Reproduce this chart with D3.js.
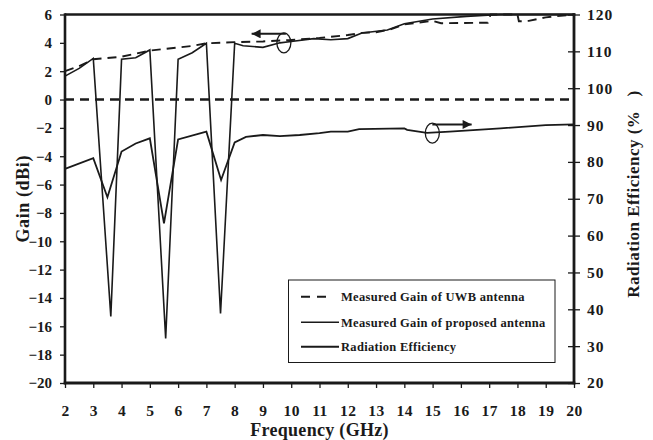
<!DOCTYPE html>
<html><head><meta charset="utf-8">
<script src="https://cdn.jsdelivr.net/npm/d3@7"></script>
<style>
html,body{margin:0;padding:0;background:#fff;}
svg{display:block;}
text{font-family:"Liberation Serif","Times New Roman",serif;font-weight:bold;fill:#1a1a1a;}
</style></head>
<body>
<script>
// ---- Data ----
const freqTicks = [2,3,4,5,6,7,8,9,10,11,12,13,14,15,16,17,18,19,20];
const gainTicks = [6,4,2,0,-2,-4,-6,-8,-10,-12,-14,-16,-18,-20];
const effTicks = [120,110,100,90,80,70,60,50,40,30,20];

const freqUWB = [2,2.5,3,3.6,4,5,5.4,6.5,7,8,9,10,11,12,12.5,13,13.5,14,15,15.3,16,16.95,17.05,18,18.05,18.4,19,20];
const gainUWB = [2.0,2.35,2.84,2.95,3.02,3.45,3.54,3.78,3.97,4.05,4.1,4.2,4.35,4.55,4.7,4.75,4.95,5.3,5.55,5.38,5.4,5.42,6.0,6.0,5.52,5.55,5.8,6.0];

const freqProposed = [2,2.5,3,3.62,4,4.5,5,5.56,6,6.5,7,7.5,8,8.3,9,9.6,10,10.8,11.4,12,12.5,13.4,14,15,16.2,17.4,18,19,20];
const gainProposed = [1.65,2.2,2.9,-15.3,2.84,2.95,3.5,-16.85,2.84,3.3,3.97,-15.1,3.97,3.8,3.68,4.0,4.1,4.3,4.22,4.3,4.7,4.9,5.35,5.68,5.87,6.0,6.0,6.0,6.0];

const freqEff = [2,3,3.5,4,4.5,5,5.5,6,7,7.52,8,8.4,9,9.6,10.3,11,11.4,12,12.4,14,14.1,14.8,15.6,17.4,19,20];
const efficiency = [78.1,81.0,70.4,82.8,85.0,86.4,63.3,86.1,88.2,75.1,85.3,86.8,87.3,87.0,87.3,87.8,88.2,88.2,88.9,89.1,88.7,87.9,88.2,89.1,90.0,90.2];

const legendLabels = ["Measured Gain of UWB antenna","Measured Gain of proposed antenna","Radiation Efficiency"];

// ---- Layout ----
const W = 653, H = 440;
const L = 65, R = 574, T = 14.5, B = 383;

const svg = d3.select("body").append("svg").attr("width",W).attr("height",H);

const x = d3.scaleLinear().domain([2,20]).range([L,R]);
const y = d3.scaleLinear().domain([-20,6]).range([B,T]);
const y2 = d3.scaleLinear().domain([20,120]).range([B,T]);

const ink = "#1a1a1a";
const serif = '"Liberation Serif","Times New Roman",serif';

// zero dashed line
svg.append("line").attr("x1",L).attr("x2",R).attr("y1",y(0)).attr("y2",y(0))
  .attr("stroke",ink).attr("stroke-width",2.6).attr("stroke-dasharray","9,6");

// curves
const lineGain = d3.line().x(d=>x(d[0])).y(d=>y(d[1]));
const lineEff = d3.line().x(d=>x(d[0])).y(d=>y2(d[1]));

svg.append("path").datum(freqEff.map((f,i)=>[f,efficiency[i]]))
  .attr("d",lineEff).attr("fill","none").attr("stroke",ink).attr("stroke-width",1.8).attr("stroke-linejoin","miter");
svg.append("path").datum(freqProposed.map((f,i)=>[f,gainProposed[i]]))
  .attr("d",lineGain).attr("fill","none").attr("stroke",ink).attr("stroke-width",1.6).attr("stroke-linejoin","miter");
svg.append("path").datum(freqUWB.map((f,i)=>[f,gainUWB[i]]))
  .attr("d",lineGain).attr("fill","none").attr("stroke",ink).attr("stroke-width",1.9).attr("stroke-dasharray","9,6");

// axes
const axL = svg.append("g").attr("transform",`translate(${L},0)`)
  .call(d3.axisLeft(y).tickValues(gainTicks).tickSize(5).tickPadding(8).tickFormat(d3.format("d")));
const axB = svg.append("g").attr("transform",`translate(0,${B})`)
  .call(d3.axisBottom(x).tickValues(freqTicks).tickSize(5).tickPadding(17).tickFormat(d3.format("d")));
const axR = svg.append("g").attr("transform",`translate(${R},0)`)
  .call(d3.axisRight(y2).tickValues(effTicks).tickSize(6).tickPadding(7).tickFormat(d3.format("d")));
[axL,axB,axR].forEach(g=>{
  g.attr("font-family",null).attr("font-size",null);
  g.select(".domain").remove();
  g.selectAll(".tick line").attr("stroke",ink).attr("stroke-width",1.3);
  g.selectAll("text").style("font-family",serif).style("font-weight","bold").attr("fill",ink);
});
axR.selectAll(".tick line").attr("x1",-6);
axL.selectAll("text").style("font-size","15px");
axB.selectAll("text").style("font-size","15.5px").attr("letter-spacing",0.5);
axR.selectAll("text").style("font-size","15.5px").attr("letter-spacing",1);

// frame lines
svg.append("line").attr("x1",L).attr("x2",R+1.3).attr("y1",T).attr("y2",T).attr("stroke",ink).attr("stroke-width",2.6);
svg.append("line").attr("x1",L).attr("x2",L).attr("y1",T-1.3).attr("y2",B+1.3).attr("stroke",ink).attr("stroke-width",2.6);
svg.append("line").attr("x1",L-1.3).attr("x2",R+1.3).attr("y1",B).attr("y2",B).attr("stroke",ink).attr("stroke-width",2.8);
svg.append("line").attr("x1",R).attr("x2",R).attr("y1",T-1.3).attr("y2",B+1.3).attr("stroke",ink).attr("stroke-width",2.8);

// axis titles
svg.append("text").attr("transform",`translate(28.5,${(T+B)/2}) rotate(-90)`)
  .attr("text-anchor","middle").attr("font-size",18).attr("letter-spacing",0.6).text("Gain (dBi)");
svg.append("text").attr("x",(L+R)/2+0).attr("y",436).attr("text-anchor","middle")
  .attr("font-size",18).attr("letter-spacing",0.3).text("Frequency (GHz)");
svg.append("text").attr("transform",`translate(639,194) rotate(-90)`)
  .attr("text-anchor","middle").attr("font-size",17).attr("letter-spacing",0.5)
  .style("white-space","pre").text("Radiation Efficiency (%   )");

// annotations: circles + arrows
svg.append("defs").append("marker").attr("id","ah").attr("viewBox","0 0 10 10")
  .attr("refX",10).attr("refY",5).attr("markerWidth",10).attr("markerHeight",9)
  .attr("markerUnits","userSpaceOnUse").attr("orient","auto")
  .append("path").attr("d","M0,0 L10,5 L0,10 Z").attr("fill",ink);

svg.append("ellipse").attr("cx",x(9.74)).attr("cy",y(4.0)).attr("rx",7).attr("ry",10)
  .attr("fill","none").attr("stroke",ink).attr("stroke-width",1.3);
svg.append("line").attr("x1",x(9.74)+2).attr("y1",y(4.0)-9).attr("x2",x(8.6)).attr("y2",y(4.0)-9)
  .attr("stroke",ink).attr("stroke-width",2).attr("marker-end","url(#ah)");

svg.append("ellipse").attr("cx",x(14.99)).attr("cy",y2(87.8)).attr("rx",7).attr("ry",10)
  .attr("fill","none").attr("stroke",ink).attr("stroke-width",1.3);
svg.append("line").attr("x1",x(14.99)).attr("y1",y2(87.8)-8.7).attr("x2",x(16.38)).attr("y2",y2(87.8)-8.7)
  .attr("stroke",ink).attr("stroke-width",2).attr("marker-end","url(#ah)");

// legend
const lg = svg.append("g");
lg.append("rect").attr("x",288.5).attr("y",280).attr("width",266.5).attr("height",82.5)
  .attr("fill","#fff").attr("stroke",ink).attr("stroke-width",1);
const legY = [296.7,322.3,346.7];
lg.append("line").attr("x1",301).attr("x2",332).attr("y1",legY[0]).attr("y2",legY[0])
  .attr("stroke",ink).attr("stroke-width",2).attr("stroke-dasharray","9,7");
lg.append("line").attr("x1",301).attr("x2",339).attr("y1",legY[1]).attr("y2",legY[1])
  .attr("stroke",ink).attr("stroke-width",1.4);
lg.append("line").attr("x1",301).attr("x2",339).attr("y1",legY[2]).attr("y2",legY[2])
  .attr("stroke",ink).attr("stroke-width",1.9);
legendLabels.forEach((t,i)=>{
  lg.append("text").attr("x",341).attr("y",legY[i]+4.5).attr("font-size",12.5)
    .attr("letter-spacing",0.3).text(t);
});
</script>
</body></html>
